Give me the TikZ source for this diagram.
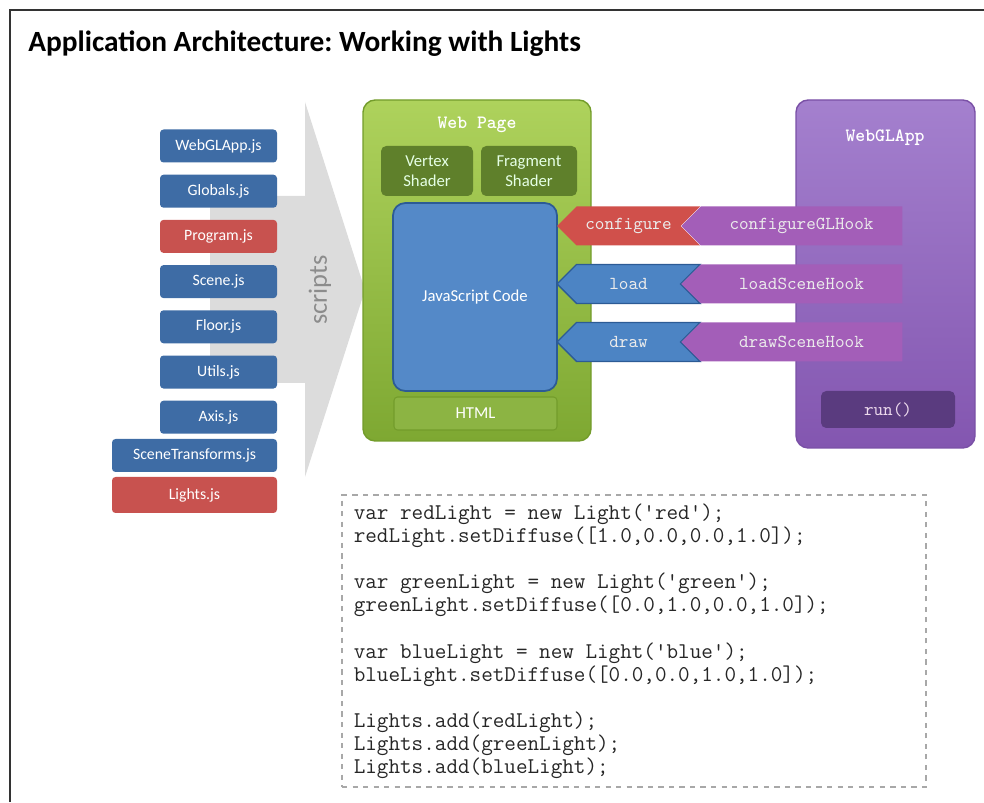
\documentclass[tikz,border=0pt]{standalone}
\usepackage{fontspec}
\setmainfont{Carlito}
\usetikzlibrary{shapes.symbols,positioning}
\definecolor{fileBlue}   {HTML}{3E6CA5}
\definecolor{fileRed}    {HTML}{C8524F}
\definecolor{arrowGray}  {HTML}{DCDCDC}
\definecolor{pageTop}    {HTML}{AED25C}
\definecolor{pageBot}    {HTML}{7EA832}
\definecolor{pageEdge}   {HTML}{739C2B}
\definecolor{shaderGreen}{HTML}{5F802B}
\definecolor{htmlGreen}  {HTML}{8CB443}
\definecolor{jsBlue}     {HTML}{5489C8}
\definecolor{jsEdge}     {HTML}{2C5B95}
\definecolor{appTop}     {HTML}{A480CE}
\definecolor{appBot}     {HTML}{8356B0}
\definecolor{appEdge}    {HTML}{7A50A6}
\definecolor{runPurple}  {HTML}{5A3B7F}
\definecolor{hookPurple} {HTML}{A35EB8}
\definecolor{callRed}    {HTML}{D0504B}
\definecolor{callBlue}   {HTML}{4C84C4}
\definecolor{frameGray}  {HTML}{333333}
\definecolor{codeEdge}   {HTML}{A8A8A8}
\frenchspacing
\tikzset{
  frame/.style={draw=frameGray,line width=1.2pt},
  title/.style={font=\bfseries\fontsize{16.7}{19}\selectfont,text=black,inner sep=0pt},
  filebox/.style={rectangle,rounded corners=2pt,draw=none,fill=fileBlue,text=white,
    minimum width=2.34cm,minimum height=0.66cm,inner sep=0pt,font=\fontsize{9}{10}\selectfont},
  redfile/.style={filebox,fill=fileRed},
  widefile/.style={minimum width=3.3cm},
  scriptlabel/.style={font=\fontsize{15}{18}\selectfont,text=black!45},
  pagepanel/.style={rectangle,rounded corners=7pt,draw=pageEdge,line width=0.8pt,
    top color=pageTop,bottom color=pageBot},
  apppanel/.style={rectangle,rounded corners=7pt,draw=appEdge,line width=0.8pt,
    top color=appTop,bottom color=appBot},
  paneltitle/.style={font=\ttfamily\bfseries\fontsize{10.7}{12}\selectfont,text=white},
  shader/.style={rectangle,rounded corners=3pt,draw=none,fill=shaderGreen,text=white!90!green,
    minimum width=1.84cm,minimum height=1.0cm,align=center,inner sep=0pt,
    font=\fontsize{9.5}{11.5}\selectfont},
  jsbox/.style={rectangle,rounded corners=7pt,draw=jsEdge,line width=1pt,fill=jsBlue,text=white,
    minimum width=3.28cm,minimum height=3.76cm,font=\fontsize{9.5}{11}\selectfont},
  htmlbox/.style={rectangle,rounded corners=2pt,draw=pageEdge,line width=0.6pt,fill=htmlGreen,text=white,
    minimum width=3.26cm,minimum height=0.66cm,font=\fontsize{9.5}{11}\selectfont},
  runbox/.style={rectangle,rounded corners=3pt,draw=none,fill=runPurple,text=white!85!violet,
    minimum width=2.68cm,minimum height=0.74cm,font=\ttfamily\fontsize{10.4}{12}\selectfont},
  call/.style={signal,signal to=west,signal from=east,draw=none,text=white!92!black,
    minimum height=0.78cm,inner sep=0pt,font=\ttfamily\fontsize{10.4}{12}\selectfont},
  bluecall/.style={call,fill=callBlue,draw=jsEdge,line width=0.8pt},
  hook/.style={signal,signal to=west,draw=none,fill=hookPurple,text=white!92!black,
    minimum width=4.42cm,minimum height=0.78cm,inner sep=0pt,font=\ttfamily\fontsize{10.4}{12}\selectfont},
  codebox/.style={rectangle,draw=codeEdge,dashed,line width=0.6pt,
    minimum width=11.68cm,minimum height=5.84cm},
  codetext/.style={align=left,inner sep=0pt,text=black!85,font=\ttfamily\fontsize{12.8}{13.15}\selectfont},
}

\begin{document}
\begin{tikzpicture}[x=1cm,y=1cm]
\useasboundingbox (0,0) rectangle (19.68,16.04);

\draw[frame] (0.2,0) -- (0.2,15.84) -- (19.68,15.84);

\node[title,anchor=base west] (heading) at (0.56,15.0) {Application Architecture: Working with Lights};

% gray arrow behind the files
\fill[arrowGray] (4.2,12.12) -- (6.1,12.12) -- (6.1,14.0) -- (7.3,10.24)
  -- (6.1,6.5) -- (6.1,8.38) -- (4.2,8.38) -- cycle;
\node[scriptlabel,rotate=90] (scripts) at (6.4,10.24) {scripts};

\node[filebox] (webglappjs) at (4.37,13.12) {WebGLApp.js};
\node[filebox,below=0.23cm of webglappjs] (globals) {Globals.js};
\node[redfile,below=0.23cm of globals]    (program) {Program.js};
\node[filebox,below=0.23cm of program]    (scene)   {Scene.js};
\node[filebox,below=0.23cm of scene]      (floor)   {Floor.js};
\node[filebox,below=0.23cm of floor]      (utils)   {Utils.js};
\node[filebox,below=0.23cm of utils]      (axis)    {Axis.js};
\node[filebox,widefile] (scenetr) at (3.89,6.93) {SceneTransforms.js};
\node[redfile,widefile,minimum height=0.72cm] (lights) at (3.89,6.14) {Lights.js};

% web page
\node[pagepanel,minimum width=4.56cm,minimum height=6.82cm] (webpage) at (9.54,10.63) {};
\node[paneltitle] (webpagetitle) at (9.54,13.54) {Web Page};
\node[shader] (vertex)   at (8.54,12.62)  {Vertex\\Shader};
\node[shader,minimum width=1.92cm] (fragment) at (10.58,12.62) {Fragment\\Shader};
\node[jsbox]   (jscode) at (9.5,10.1)   {JavaScript Code};
\node[htmlbox] (html)   at (9.51,7.77)  {HTML};

% webgl app
\node[apppanel,minimum width=3.58cm,minimum height=6.96cm] (webglapp) at (17.71,10.56) {};
\node[paneltitle] (webglapptitle) at (17.7,13.28) {WebGLApp};
\node[runbox] (run) at (17.76,7.85) {run()};

\node[call,fill=callRed,minimum width=2.86cm] (configure) at (12.57,11.52) {configure};
\node[hook] (configurehook) at (16.03,11.52) {configureGLHook};
\node[bluecall,minimum width=2.86cm] (load) at (12.57,10.36) {load};
\node[hook] (loadhook) at (16.03,10.36) {loadSceneHook};
\node[bluecall,minimum width=2.86cm] (draw) at (12.57,9.2) {draw};
\node[hook] (drawhook) at (16.03,9.2) {drawSceneHook};

% code listing
\node[codebox] (code) at (12.68,3.22) {};
\node[codetext,below right=0.18cm and 0.24cm of code.north west] (listing) {%
var redLight = new Light(\textquotesingle red\textquotesingle);\\
redLight.setDiffuse([1.0,0.0,0.0,1.0]);\\[13.15pt]
var greenLight = new Light(\textquotesingle green\textquotesingle);\\
greenLight.setDiffuse([0.0,1.0,0.0,1.0]);\\[13.15pt]
var blueLight = new Light(\textquotesingle blue\textquotesingle);\\
blueLight.setDiffuse([0.0,0.0,1.0,1.0]);\\[13.15pt]
Lights.add(redLight);\\
Lights.add(greenLight);\\
Lights.add(blueLight);};

\end{tikzpicture}
\end{document}
